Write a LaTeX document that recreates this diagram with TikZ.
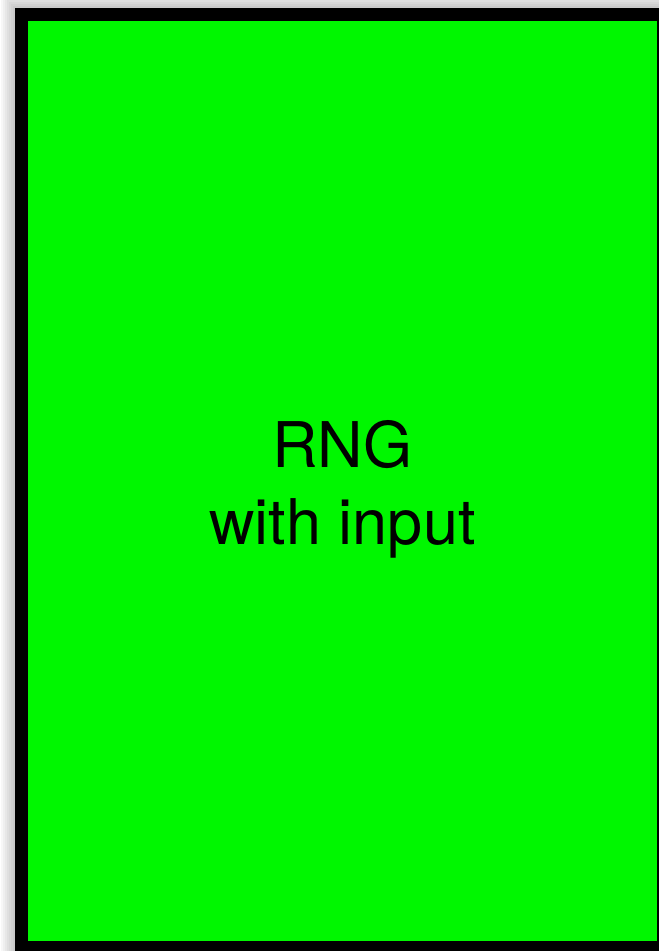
\documentclass[tikz,border=0pt]{standalone}
\usepackage{fontspec}
\setmainfont{TeX Gyre Heros}
\usetikzlibrary{positioning}
\definecolor{rnggreen}{RGB}{0, 247, 0}
\tikzset{
	rngbox/.style={rectangle, draw=black, line width=13pt, fill=rnggreen,
		minimum width=642pt, minimum height=933pt, inner sep=0pt},
	rngtext/.style={align=center, inner sep=0pt, font=\fontsize{63}{77}\selectfont},
	shade/.style={fill=black, opacity=0.03}
}
\begin{document}
\begin{tikzpicture}[x=1pt, y=-1pt]
		\useasboundingbox (0,0) rectangle (659,951);
		\clip (0,0) rectangle (659,951);
		\fill[white] (0,0) rectangle (659,951);
		% soft shadow round the box
		\foreach \d in {2,4,...,14}
			\fill[shade] (15-\d,8-\d) rectangle (680,970);
		\node[rngbox] (rng) at (342.5,481) {};
		\node[rngtext] (rnglabel) at ([yshift=-8pt]rng.center) {RNG\\with input};
		\end{tikzpicture}
\end{document}
